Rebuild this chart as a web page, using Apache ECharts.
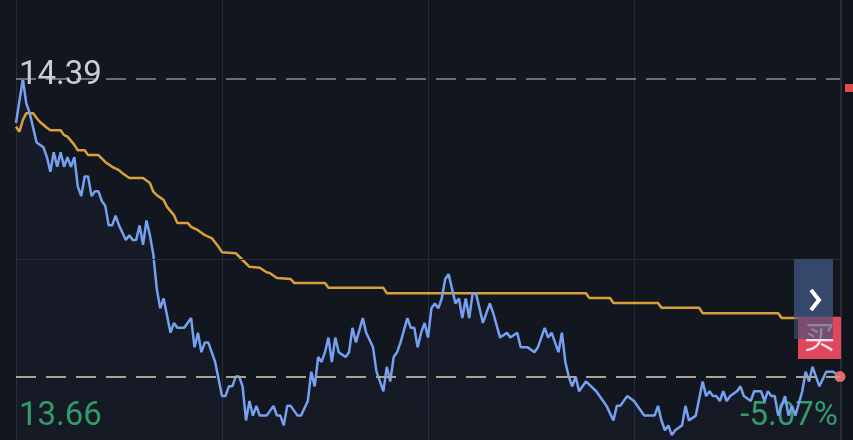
<!DOCTYPE html>
<html>
<head>
<meta charset="utf-8">
<script src="https://cdn.jsdelivr.net/npm/echarts@6/dist/echarts.min.js"></script>
<style>
  html, body { margin: 0; padding: 0; background: #12161f; }
  #chart { width: 853px; height: 440px; }
</style>
</head>
<body>
<div id="chart"></div>
<script>
// 分时数据 (分钟序号, 价格)
var priceMinutes = [0,2,3,4,5,6,8,9,10,11,12,13,14,15,16,17,18,19,20,21,22,23,24,25,26,27,28,29,30,32,33,34,35,36,37,38,39,40,41,42,43,45,46,47,49,51,52,53,54,55,56,57,58,60,61,62,63,64,65,66,67,68,69,70,71,73,75,76,77,78,79,80,82,83,85,86,87,88,89,90,91,92,93,94,96,97,98,99,101,102,104,105,107,108,109,110,111,112,114,115,116,117,118,119,120,121,122,123,124,125,126,127,128,129,130,131,132,133,134,136,138,139,141,143,144,146,147,149,151,152,154,155,156,157,158,159,160,161,162,163,164,166,169,171,172,174,175,176,178,180,182,183,186,187,188,189,190,191,192,194,195,196,198,200,201,202,203,204,205,206,207,208,210,211,212,214,215,217,218,219,220,221,222,224,225,226,227,229,230,231,232,233,234,236,238,240];
var priceValues = [14.30,14.39,14.34,14.32,14.29,14.26,14.25,14.23,14.20,14.24,14.21,14.24,14.21,14.23,14.21,14.23,14.17,14.15,14.19,14.19,14.15,14.16,14.16,14.14,14.13,14.09,14.09,14.11,14.09,14.06,14.07,14.06,14.06,14.09,14.05,14.10,14.07,14.03,13.96,13.92,13.94,13.87,13.89,13.88,13.88,13.90,13.84,13.87,13.83,13.85,13.85,13.83,13.81,13.74,13.74,13.76,13.76,13.78,13.78,13.76,13.69,13.73,13.70,13.72,13.70,13.70,13.72,13.70,13.70,13.68,13.72,13.72,13.70,13.70,13.73,13.79,13.76,13.82,13.81,13.83,13.86,13.81,13.86,13.83,13.82,13.83,13.88,13.85,13.90,13.87,13.84,13.79,13.75,13.80,13.77,13.82,13.83,13.85,13.90,13.88,13.88,13.84,13.87,13.89,13.86,13.92,13.93,13.92,13.94,13.98,13.99,13.96,13.93,13.94,13.90,13.94,13.90,13.95,13.95,13.89,13.93,13.91,13.86,13.87,13.86,13.87,13.84,13.84,13.83,13.84,13.88,13.86,13.87,13.85,13.83,13.87,13.81,13.78,13.76,13.78,13.75,13.77,13.75,13.73,13.72,13.69,13.72,13.72,13.74,13.73,13.71,13.70,13.70,13.72,13.69,13.67,13.68,13.66,13.67,13.68,13.72,13.69,13.70,13.77,13.74,13.75,13.74,13.74,13.73,13.75,13.73,13.74,13.75,13.76,13.74,13.73,13.75,13.75,13.73,13.75,13.74,13.74,13.70,13.74,13.70,13.72,13.70,13.75,13.79,13.77,13.80,13.78,13.76,13.79,13.79,13.78];

// 均价线
var avgMinutes = [0,1,2,3,5,6,7,9,10,13,14,15,17,18,20,21,24,26,28,30,31,33,37,39,40,41,43,44,46,47,50,51,53,55,57,59,60,64,66,68,71,73,74,76,80,81,90,91,107,108,166,167,173,174,187,188,199,200,222,223,240];
var avgValues = [14.292,14.282,14.306,14.320,14.320,14.310,14.302,14.290,14.285,14.285,14.275,14.272,14.255,14.244,14.244,14.234,14.234,14.220,14.210,14.203,14.197,14.187,14.187,14.177,14.159,14.152,14.142,14.128,14.111,14.095,14.095,14.087,14.080,14.070,14.064,14.046,14.035,14.033,14.019,14.005,14.003,13.994,13.992,13.982,13.980,13.972,13.972,13.962,13.962,13.951,13.951,13.941,13.941,13.931,13.931,13.921,13.921,13.910,13.910,13.900,13.900];

var highLabel = '14.39';
var lowLabel = '13.66';
var changeLabel = '-5.07%';
var highPrice = 14.39;
var lastPrice = 13.78;
var midLine = 14.02;

var chartInstance = echarts.init(document.getElementById('chart'));

var priceData = priceMinutes.map(function (m, i) {
  return [m, priceValues[i]];
});
// 最新价红点
var last = priceData.length - 1;
priceData[last] = {
  value: priceData[last],
  symbol: 'circle',
  symbolSize: 11,
  itemStyle: { color: '#e8676a' }
};
var avgData = avgMinutes.map(function (m, i) {
  return [m, avgValues[i]];
});

var option = {
  backgroundColor: '#12161f',
  animation: false,
  grid: { left: 16, right: 13, top: 0, bottom: 0 },
  xAxis: {
    type: 'value',
    min: 0,
    max: 240,
    interval: 60,
    axisLine: { show: false },
    axisTick: { show: false },
    axisLabel: { show: false },
    splitLine: { show: true, lineStyle: { color: '#272b35', width: 1 } }
  },
  yAxis: {
    type: 'value',
    min: 13.65,
    max: 14.552,
    axisLine: { show: false },
    axisTick: { show: false },
    axisLabel: { show: false },
    splitLine: { show: false }
  },
  series: [
    {
      type: 'line',
      data: avgData,
      symbol: 'none',
      z: 2,
      lineStyle: { color: '#d9a03c', width: 2.5 },
      markLine: {
        silent: true,
        symbol: 'none',
        label: { show: false },
        data: [
          { yAxis: midLine, lineStyle: { color: '#262a34', width: 1, type: 'solid' } },
          { yAxis: highPrice, lineStyle: { color: '#6c7079', width: 2, type: [20, 10] } },
          { yAxis: lastPrice, lineStyle: { color: '#aaa496', width: 2, type: [20, 10] } }
        ]
      }
    },
    {
      type: 'line',
      data: priceData,
      symbol: 'none',
      z: 3,
      lineStyle: { color: '#76a0f0', width: 2.5 },
      areaStyle: {
        origin: 'start',
        color: new echarts.graphic.LinearGradient(0, 0, 0, 1, [
          { offset: 0, color: 'rgba(110,150,240,0.06)' },
          { offset: 1, color: 'rgba(110,150,240,0.04)' }
        ])
      }
    }
  ],
  graphic: [
    // 右侧面板
    { type: 'rect', left: 841, top: 0, z: 1, shape: { width: 12, height: 440 }, style: { fill: '#0f131b' } },
    { type: 'rect', left: 841, top: 0, z: 1, shape: { width: 1, height: 440 }, style: { fill: '#2a2e38' } },
    { type: 'rect', left: 845, top: 84, z: 1, shape: { width: 8, height: 8 }, style: { fill: '#e04a4a' } },
    // 文字
    { type: 'text', left: 19, top: 59, z: 10, style: { text: highLabel, fill: '#c9ccd2', font: '33px Roboto' } },
    { type: 'text', left: 19, top: 400, z: 1, style: { text: lowLabel, fill: '#2f9d64', font: '33px Roboto' } },
    { type: 'text', right: 15, top: 400, z: 1, style: { text: changeLabel, fill: '#2f9d64', font: '33px Roboto', textAlign: 'right' } },
    // 买 按钮
    { type: 'rect', left: 798, top: 317, z: 20, shape: { width: 43, height: 42 }, style: { fill: '#e0465c' } },
    { type: 'text', left: 804, top: 321, z: 21, style: { text: '买', fill: '#f8e4e8', font: '31px "Noto Sans CJK SC"' } },
    { type: 'rect', left: 794, top: 259, z: 22, shape: { width: 39, height: 80 }, style: { fill: 'rgba(62,80,122,0.62)' } },
    { type: 'rect', left: 794, top: 259, z: 22, shape: { width: 39, height: 58 }, style: { fill: 'rgba(62,80,122,0.6)' } },
    { type: 'polyline', z: 23, shape: { points: [[811, 290], [819, 300], [811, 310]] }, style: { stroke: '#ffffff', lineWidth: 4, fill: null } }
  ]
};
chartInstance.setOption(option);
</script>
</body>
</html>
